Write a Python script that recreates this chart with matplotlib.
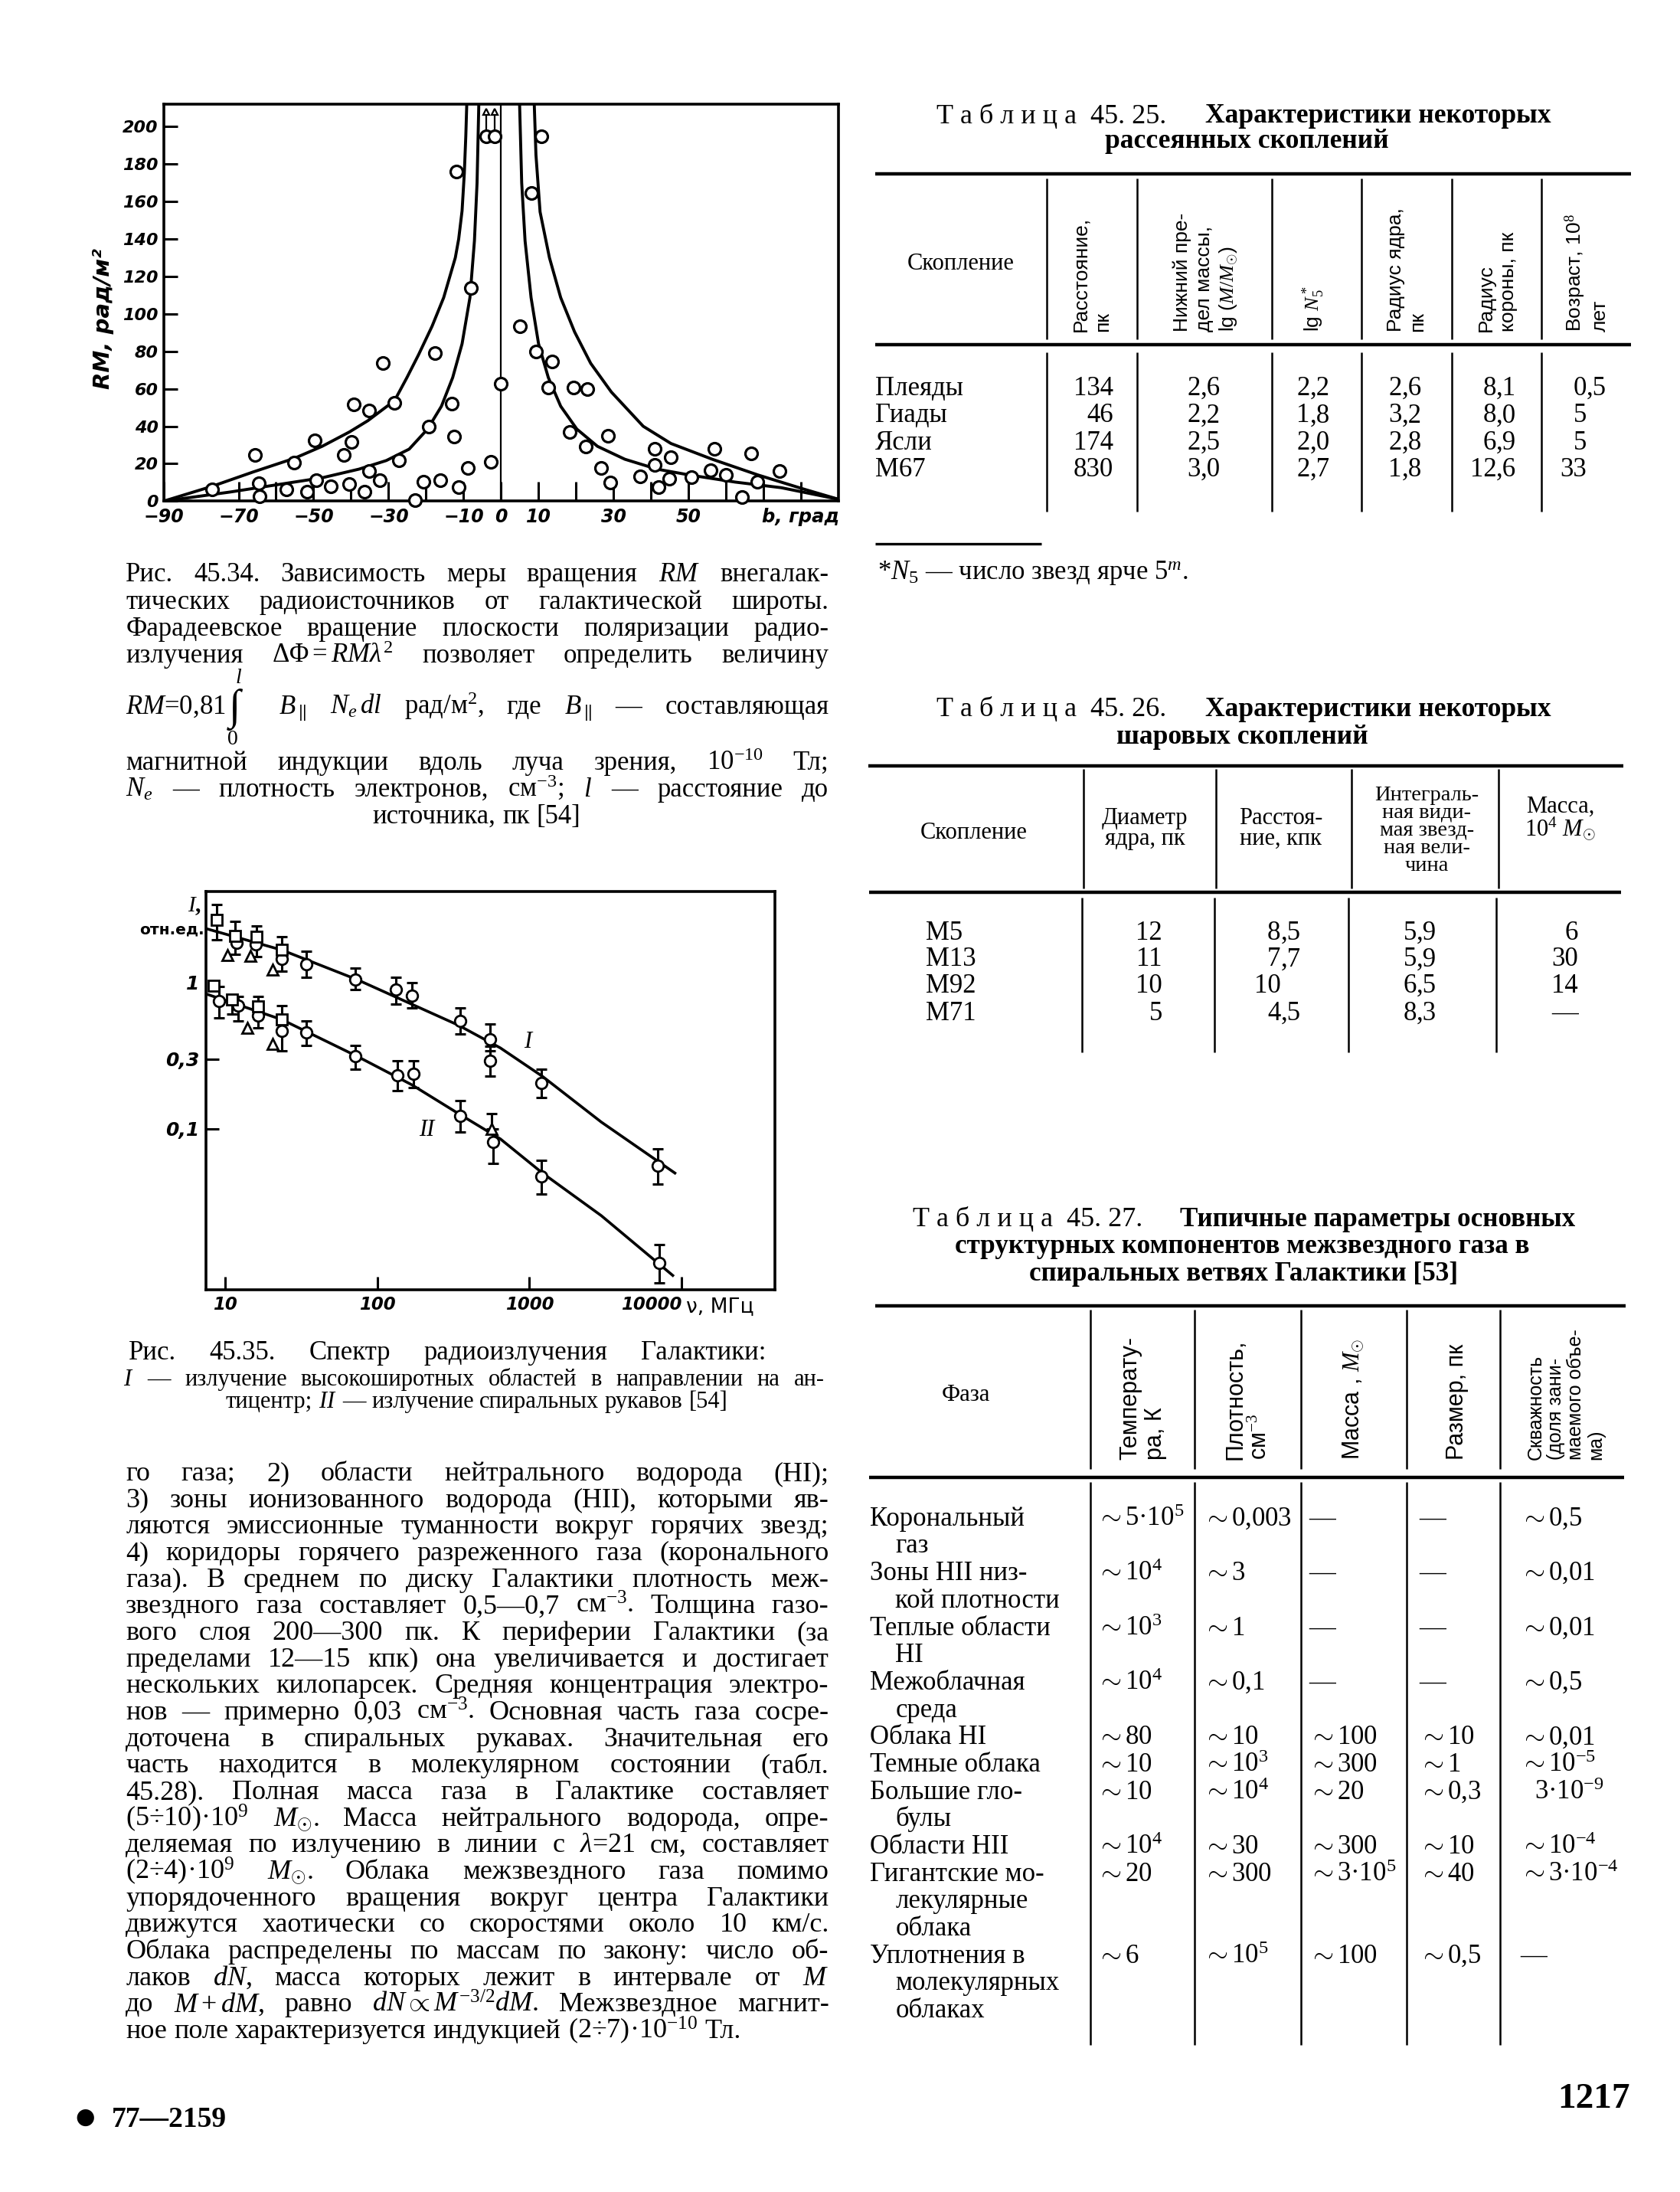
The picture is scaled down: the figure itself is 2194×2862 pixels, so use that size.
import numpy as np
import matplotlib
matplotlib.use("Agg")
import matplotlib.pyplot as plt
from matplotlib.lines import Line2D
from matplotlib.ticker import NullLocator

plt.rcParams['mathtext.fontset'] = 'custom'
plt.rcParams['mathtext.rm'] = 'Liberation Serif'
plt.rcParams['mathtext.it'] = 'Liberation Serif:italic'
plt.rcParams['mathtext.bf'] = 'Liberation Serif:bold'
plt.rcParams['font.family'] = ['Liberation Serif', 'DejaVu Serif']

# ===================== DATA =====================
# Fig. 45.34: rotation measure RM vs galactic latitude b
rm_b = [-77.1, -64.6, -64.3, -65.7, -57.3, -55.3, -51.7, -49.2, -49.6, -45.5, -42.0, -40.6,
        -39.8, -39.2, -36.4, -35.1, -35.1, -32.4, -31.5, -28.4, -27.3, -22.9, -20.6, -19.3,
        -17.7, -16.3, -13.1, -12.6, -11.9, -11.4, -8.8, -8.0, -4.0, -1.8, -2.7, 0.0,
        5.1, 9.3, 10.8, 8.0, 13.7, 12.6, 18.4, 19.3, 22.6, 23.0, 26.7, 28.5, 29.1, 37.1,
        41.0, 41.0, 42.0, 44.9, 45.3, 50.8, 55.9, 56.9, 60.0, 64.3, 66.7, 68.3, 74.3]
rm_val = [6.4, 9.5, 2.6, 24.7, 6.1, 20.5, 4.9, 11.0, 32.4, 7.9, 24.7, 9.2,
          31.6, 51.5, 4.9, 16.3, 48.4, 11.0, 73.6, 52.5, 21.7, 0.6, 10.2, 40.0,
          78.9, 11.0, 52.2, 34.7, 175.9, 7.6, 17.9, 114.0, 195.0, 195.0, 20.9, 62.9,
          93.4, 79.7, 195.0, 164.4, 74.4, 60.6, 37.0, 60.6, 29.3, 59.8, 17.9, 35.1, 9.8, 13.3,
          27.8, 19.4, 7.6, 12.1, 23.5, 12.8, 16.6, 27.8, 14.0, 2.3, 25.5, 10.2, 16.3]
offscale_b = [-4.0, -1.8]          # sources beyond the top of the scale
offscale_rm = [208.0, 208.0]

upper_left_b = [-90, -77.1, -66.1, -55.1, -47.7, -40.4, -35.5, -28.4, -25.1, -22.0, -18.4,
                -15.3, -12.2, -11.3, -10.4, -9.8, -9.4, -9.1]
upper_left_rm = [0, 7.9, 15.6, 22.9, 29.3, 37.0, 43.0, 53.7, 66.0, 78.2, 93.4,
                 108.7, 130.0, 140.0, 155.0, 175.0, 195.0, 215.0]
lower_left_b = [-90, -72.2, -60.0, -47.7, -37.9, -30.6, -24.5, -19.6, -15.9, -12.9, -10.4,
                -8.3, -7.1, -6.4, -5.9]
lower_left_rm = [0, 4.9, 8.7, 12.5, 17.1, 21.7, 27.8, 38.5, 50.7, 66.0, 84.0,
                 108.7, 139.0, 170.0, 215.0]
upper_right_b = [8.8, 9.3, 10.4, 12.9, 15.9, 19.6, 23.9, 29.4, 37.9, 45.3, 56.3, 68.5, 80.8, 90]
upper_right_rm = [215, 185, 154.5, 130, 108.7, 90.4, 73.6, 58.3, 40.0, 30.8, 22.4, 14.0, 6.4, 1.0]
lower_right_b = [4.9, 5.5, 6.4, 8.0, 10.0, 12.6, 15.9, 20.2, 25.7, 33.0, 41.6, 50.2, 62.4, 74.7, 90]
lower_right_rm = [215, 170, 139, 108.7, 84, 66, 50.7, 38.5, 29.3, 22.4, 17.1, 14.0, 10.2, 7.2, 1.0]

rm_xticks = [-90, -70, -60, -50, -40, -30, -20, -10, 0, 10, 20, 30, 40, 50, 60, 70, 80]
rm_xticklabels = ['\u221290', '\u221270', '', '\u221250', '', '\u221230', '', '\u221210', '0',
                  '10', '', '30', '', '50', '', '', '']
rm_yticks = [0, 20, 40, 60, 80, 100, 120, 140, 160, 180, 200]

# Fig. 45.35: radio spectrum of the Galaxy
lineI_nu = [7.5, 23.6, 74.1, 341, 644, 1218, 2966, 9036]
lineI_I = [2.34, 1.67, 1.045, 0.511, 0.357, 0.228, 0.111, 0.0497]
lineII_nu = [7.5, 23.6, 74.1, 169, 341, 644, 1218, 2966, 8750]
lineII_I = [0.836, 0.558, 0.312, 0.1995, 0.127, 0.0851, 0.0497, 0.0254, 0.0099]

spec_nu = [8.81, 11.6, 11.9, 16.1, 15.9, 23.6, 23.6, 34.1, 71.8, 133, 169, 352, 550, 550, 1202, 7000,
           10.3, 14.7, 20.5,
           8.4, 9.1, 11.1, 12.2, 16.4, 16.4, 23.6, 23.6, 34.1, 71.8, 136, 172, 352, 567, 575, 1202, 7140,
           14.0, 20.5]
spec_I = [2.68, 2.09, 1.87, 2.05, 1.83, 1.67, 1.46, 1.34, 1.046, 0.894, 0.818, 0.546, 0.408, 0.292, 0.206, 0.0556,
          1.55, 1.53, 1.22,
          0.95, 0.748, 0.764, 0.699, 0.684, 0.597, 0.558, 0.467, 0.457, 0.312, 0.233, 0.238, 0.122, 0.0995, 0.0814, 0.0471, 0.0121,
          0.489, 0.382]
spec_lo = [1.96, 1.56, 1.87, 1.50, 1.83, 1.20, 1.46, 1.09, 0.894, 0.715, 0.668, 0.447, 0.341, 0.228, 0.163, 0.0416,
           1.55, 1.53, 1.22,
           0.95, 0.571, 0.611, 0.546, 0.489, 0.597, 0.341, 0.467, 0.373, 0.255, 0.182, 0.191, 0.0952, 0.0995, 0.058, 0.0356, 0.00886,
           0.489, 0.382]
spec_hi = [3.43, 2.62, 1.87, 2.45, 1.83, 2.05, 1.46, 1.64, 1.25, 1.09, 1.0, 0.668, 0.522, 0.365, 0.255, 0.0728,
           1.55, 1.53, 1.22,
           0.95, 0.935, 0.818, 0.80, 0.80, 0.597, 0.699, 0.467, 0.546, 0.373, 0.292, 0.292, 0.156, 0.127, 0.0995, 0.0608, 0.0162,
           0.489, 0.382]
spec_mk = ['s', 's', 'o', 's', 'o', 's', 'o', 'o', 'o', 'o', 'o', 'o', 'o', 'o', 'o', 'o',
           '^', '^', '^',
           's', 'o', 's', 'o', 's', 'o', 's', 'o', 'o', 'o', 'o', 'o', 'o', '^', 'o', 'o', 'o',
           '^', '^']
spec_xticks = [10, 100, 1000, 10000]
spec_xticklabels = ['10', '100', '1000', '10000']
spec_yticks = [0.1, 0.3, 1]
spec_yticklabels = ['0,1', '0,3', '1']

# Table 45.25
t25_clusters = ['Плеяды', 'Гиады', 'Ясли', 'M67']
t25_dist = ['134', '46', '174', '830']
t25_mass = ['2,6', '2,2', '2,5', '3,0']
t25_lgN = ['2,2', '1,8', '2,0', '2,7']
t25_rcore = ['2,6', '3,2', '2,8', '1,8']
t25_rcorona = ['8,1', '8,0', '6,9', '12,6']
t25_age = ['0,5', '5', '5', '33']
t25_heads = ['Расстояние,\nпк', 'Нижний пре-\nдел массы,\nlg ($M/M_{\\odot}$)', 'lg $N_5^*$',
             'Радиус ядра,\nпк', 'Радиус\nкороны, пк', 'Возраст, 10$^8$\nлет']

# Table 45.26
t26_clusters = ['M5', 'M13', 'M92', 'M71']
t26_core = ['12', '11', '10', '5']
t26_dist = ['8,5', '7,7', '10', '4,5']
t26_mag = ['5,9', '5,9', '6,5', '8,3']
t26_mass = ['6', '30', '14', '—']
t26_heads = ['Диаметр\nядра, пк', 'Расстоя-\nние, кпк',
             'Интеграль-\nная види-\nмая звезд-\nная вели-\nчина', 'Масса,\n10$^4$ $M_{\\odot}$']

# Table 45.27
t27_phase = [['Корональный', 'газ'], ['Зоны HII низ-', 'кой плотности'], ['Теплые области', 'HI'],
             ['Межоблачная', 'среда'], ['Облака HI'], ['Темные облака'], ['Большие гло-', 'булы'],
             ['Области HII'], ['Гигантские мо-', 'лекулярные', 'облака'],
             ['Уплотнения в', 'молекулярных', 'облаках']]
t27_temp = ['$\\sim$5·10$^5$', '$\\sim$10$^4$', '$\\sim$10$^3$', '$\\sim$10$^4$', '$\\sim$80',
            '$\\sim$10', '$\\sim$10', '$\\sim$10$^4$', '$\\sim$20', '$\\sim$6']
t27_dens = ['$\\sim$0,003', '$\\sim$3', '$\\sim$1', '$\\sim$0,1', '$\\sim$10', '$\\sim$10$^3$',
            '$\\sim$10$^4$', '$\\sim$30', '$\\sim$300', '$\\sim$10$^5$']
t27_mass = ['—', '—', '—', '—', '$\\sim$100', '$\\sim$300', '$\\sim$20', '$\\sim$300',
            '$\\sim$3·10$^5$', '$\\sim$100']
t27_size = ['—', '—', '—', '—', '$\\sim$10', '$\\sim$1', '$\\sim$0,3', '$\\sim$10', '$\\sim$40', '$\\sim$0,5']
t27_fill = ['$\\sim$0,5', '$\\sim$0,01', '$\\sim$0,01', '$\\sim$0,5', '$\\sim$0,01', '$\\sim$10$^{-5}$',
            '3·10$^{-9}$', '$\\sim$10$^{-4}$', '$\\sim$3·10$^{-4}$', '—']
t27_heads = ['Температу-\nра, К', 'Плотность,\nсм$^{-3}$', 'Масса , $M_{\\odot}$', 'Размер, пк',
             'Скважность\n(доля зани-\nмаемого объе-\nма)']

# Texts
cap34 = ["Рис. 45.34. Зависимость меры вращения $RM$ внегалак-",
         "тических радиоисточников от галактической широты.",
         "Фарадеевское вращение плоскости поляризации радио-",
         "излучения $\\Delta\\Phi = RM\\lambda^2$ позволяет определить величину",
         "$RM$=0,81 ∫ $B_{\\parallel}$ $N_e\\,dl$ рад/м$^2$, где $B_{\\parallel}$ — составляющая",
         "магнитной индукции вдоль луча зрения, 10$^{-10}$ Тл;",
         "$N_e$ — плотность электронов, см$^{-3}$; $l$ — расстояние до",
         "источника, пк [54]"]
cap35a = ["Рис. 45.35. Спектр радиоизлучения Галактики:"]
cap35b = ["$I$ — излучение высокоширотных областей в направлении на ан-",
          "тицентр; $II$ — излучение спиральных рукавов [54]"]
body = ["го газа; 2) области нейтрального водорода (HI);",
        "3) зоны ионизованного водорода (HII), которыми яв-",
        "ляются эмиссионные туманности вокруг горячих звезд;",
        "4) коридоры горячего разреженного газа (коронального",
        "газа). В среднем по диску Галактики плотность меж-",
        "звездного газа составляет 0,5—0,7 см$^{-3}$. Толщина газо-",
        "вого слоя 200—300 пк. К периферии Галактики (за",
        "пределами 12—15 кпк) она увеличивается и достигает",
        "нескольких килопарсек. Средняя концентрация электро-",
        "нов — примерно 0,03 см$^{-3}$. Основная часть газа сосре-",
        "доточена в спиральных рукавах. Значительная его",
        "часть находится в молекулярном состоянии (табл.",
        "45.28). Полная масса газа в Галактике составляет",
        "(5÷10)·10$^9$ $M_{\\odot}$. Масса нейтрального водорода, опре-",
        "деляемая по излучению в линии с $\\lambda$=21 см, составляет",
        "(2÷4)·10$^9$ $M_{\\odot}$. Облака межзвездного газа помимо",
        "упорядоченного вращения вокруг центра Галактики",
        "движутся хаотически со скоростями около 10 км/с.",
        "Облака распределены по массам по закону: число об-",
        "лаков $dN$, масса которых лежит в интервале от $M$",
        "до $M+dM$, равно $dN \\propto M^{-3/2}dM$. Межзвездное магнит-",
        "ное поле характеризуется индукцией (2÷7)·10$^{-10}$ Тл."]

# ===================== LAYOUT HELPERS =====================
W, H = 2194, 2862
K = W / 1202.0
SERIF = ['Liberation Serif', 'DejaVu Serif']
SANS = ['DejaVu Sans']
HSANS = ['Liberation Sans', 'DejaVu Sans']

fig = plt.figure(figsize=(W / 100, H / 100), dpi=100)
fig.patch.set_facecolor('white')
R = fig.canvas.get_renderer()


def fx(x):
    return x * K / W


def fy(y):
    return 1 - y * K / H


def em(size):
    return size * 100 / 72 / K


def bl(yc, size):
    return yc + 0.3 * em(size)


def T(x, y, s, size, **kw):
    kw.setdefault('family', SERIF)
    kw.setdefault('ha', 'left')
    kw.setdefault('va', 'baseline')
    return fig.text(fx(x), fy(y), s, fontsize=size, color='black', **kw)


def wid(t):
    return t.get_window_extent(renderer=R).width / K


def tokens(line):
    out, cur, inm = [], '', False
    for ch in line:
        if ch == '$':
            inm = not inm
        if ch == ' ' and not inm:
            if cur:
                out.append(cur)
            cur = ''
        else:
            cur += ch
    if cur:
        out.append(cur)
    return out


def block(lines, modes, x0, x1, ycs, size, maxsize=None, xc=None, **kw):
    rows = [[T(0, 0, w, size, **kw) for w in tokens(ln)] for ln in lines]
    avail = x1 - x0
    worst = 0.0
    for r, m in zip(rows, modes):
        if m == 'j':
            worst = max(worst, (sum(wid(t) for t in r) + 0.25 * em(size) * (len(r) - 1)) / avail)
    s = size / worst if worst > 0 else size
    if maxsize:
        s = min(s, maxsize)
    for r in rows:
        for t in r:
            t.set_fontsize(s)
    sp = 0.25 * em(s)
    for r, m, yc in zip(rows, modes, ycs):
        ws = [wid(t) for t in r]
        y = bl(yc, s)
        if m == 'j' and len(r) > 1:
            gap = (avail - sum(ws)) / (len(r) - 1)
            x = x0
        elif m == 'c':
            gap = sp
            x = xc - (sum(ws) + sp * (len(r) - 1)) / 2
        else:
            gap = sp
            x = x0
        for t, w in zip(r, ws):
            t.set_position((fx(x), fy(y)))
            x += w + gap
    return rows, s


def fit(t, target, maxsize=None):
    s = t.get_fontsize() * target / wid(t)
    if maxsize:
        s = min(s, maxsize)
    t.set_fontsize(s)
    return s


def hline(x0, x1, y, lw=2.8):
    fig.add_artist(Line2D([fx(x0), fx(x1)], [fy(y), fy(y)], transform=fig.transFigure,
                          color='k', lw=lw, solid_capstyle='butt'))


def vline(x, y0, y1, lw=1.8):
    fig.add_artist(Line2D([fx(x), fx(x)], [fy(y0), fy(y1)], transform=fig.transFigure,
                          color='k', lw=lw, solid_capstyle='butt'))


def D(xa, y, s, size):
    if ',' in s:
        i, f = s.split(',', 1)
        T(xa, y, i, size, ha='right')
        T(xa, y, ',' + f, size, ha='left')
    else:
        T(xa, y, s, size, ha='right')


def style_ticks(labels, size):
    for lab in labels:
        lab.set_fontfamily(SANS)
        lab.set_fontweight('bold')
        lab.set_fontstyle('italic')
        lab.set_fontsize(size)


# ===================== FIG 45.34 =====================
ax1 = fig.add_axes([fx(117), fy(358.5), fx(600) - fx(117), fy(74.5) - fy(358.5)])
ax1.set_xlim(-90, 90)
ax1.set_ylim(0, 212)
for xs, ys in [(upper_left_b, upper_left_rm), (lower_left_b, lower_left_rm),
               (upper_right_b, upper_right_rm), (lower_right_b, lower_right_rm)]:
    ax1.plot(xs, ys, color='k', lw=2.8, solid_joinstyle='round')
ax1.axvline(0, color='k', lw=1.6)
for b, v in zip(offscale_b, offscale_rm):
    ax1.plot([b, b], [199, v], color='k', lw=1.6)
ax1.plot(offscale_b, offscale_rm, ls='none', marker='^', ms=6, mfc='white', mec='k', mew=1.6)
ax1.plot(rm_b, rm_val, ls='none', marker='o', ms=11.5, mfc='white', mec='k', mew=2.3, zorder=5,
         clip_on=False)
ax1.set_xticks(rm_xticks)
ax1.set_xticklabels(rm_xticklabels)
ax1.set_yticks(rm_yticks)
ax1.set_yticklabels([str(v) for v in rm_yticks])
ax1.tick_params(axis='x', direction='in', length=18, width=2.2, pad=6)
ax1.tick_params(axis='y', direction='in', length=13, width=2.2, pad=5)
style_ticks(ax1.get_xticklabels(), 17)
style_ticks(ax1.get_yticklabels(), 16)
for sp in ax1.spines.values():
    sp.set_linewidth(2.6)
T(74, 228, 'RM, рад/м²', 21, family=SANS, weight='bold', style='italic', rotation=90,
  ha='center', va='center')
T(545, 370, 'b, град', 17.5, family=SANS, weight='bold', style='italic', va='center')

# ===================== FIG 45.35 =====================
ax2 = fig.add_axes([fx(147.4), fy(922.6), fx(554.4) - fx(147.4), fy(637.7) - fy(922.6)])
ax2.set_xscale('log')
ax2.set_yscale('log')
ax2.set_xlim(7.49, 41000)
ax2.set_ylim(0.0079, 4.2)
ax2.plot(lineI_nu, lineI_I, color='k', lw=2.6)
ax2.plot(lineII_nu, lineII_I, color='k', lw=2.6)
for nu, I, lo, hi in zip(spec_nu, spec_I, spec_lo, spec_hi):
    if hi > lo:
        ax2.errorbar([nu], [I], yerr=[[I - lo], [hi - I]], fmt='none', ecolor='k',
                     elinewidth=2.2, capsize=5, capthick=2.2)
for mk in ['o', 's', '^']:
    sel = [i for i, m in enumerate(spec_mk) if m == mk]
    ax2.plot([spec_nu[i] for i in sel], [spec_I[i] for i in sel], ls='none', marker=mk,
             ms=10.5, mfc='white', mec='k', mew=2.0, zorder=5)
ax2.set_xticks(spec_xticks)
ax2.set_xticklabels(spec_xticklabels)
ax2.set_yticks(spec_yticks)
ax2.set_yticklabels(spec_yticklabels)
ax2.xaxis.set_minor_locator(NullLocator())
ax2.yaxis.set_minor_locator(NullLocator())
ax2.tick_params(axis='both', direction='in', length=12, width=2.2, pad=6)
ax2.yaxis.get_major_ticks()[2].tick1line.set_visible(False)
style_ticks(ax2.get_xticklabels(), 16.5)
style_ticks(ax2.get_yticklabels(), 18)
ax2.get_xticklabels()[-1].set_horizontalalignment('right')
for sp in ax2.spines.values():
    sp.set_linewidth(2.6)
ax2.text(975, 0.39, 'I', fontsize=22, family=SERIF, style='italic', ha='center', va='center')
ax2.text(212, 0.0973, 'II', fontsize=22, family=SERIF, style='italic', ha='center', va='center')
T(139, 648, '$I$,', 21, ha='center', va='center', weight='bold')
T(146, 665, 'отн.ед.', 14.5, family=SANS, weight='bold', ha='right', va='center')
T(491, 935, 'ν, МГц', 19, family=SANS, va='center')

# ===================== CAPTIONS & BODY =====================
rows34, s34 = block(cap34, ['j', 'j', 'j', 'j', 'j', 'j', 'j', 'c'], 90, 593,
                    [410, 430, 449, 468, 505, 545, 564, 583], 20, maxsize=25, xc=341)
# integral sign with limits
ri = rows34[4]
x_after = (ri[0].get_window_extent(renderer=R).x1) / K
ri[1].set_fontsize(s34 * 1.6)
ri[1].set_position((fx(x_after + 2), fy(bl(505, s34) + 0.2 * em(s34))))
xi = x_after + 2 + wid(ri[1]) / 2
T(xi + 3, bl(484, s34 * 0.8), '$l$', s34 * 0.8, ha='center')
T(xi - 1, bl(528, s34 * 0.8), '0', s34 * 0.8, ha='center')

block(cap35a, ['j'], 92, 548, [967], 20, maxsize=25)
block(cap35b, ['j', 'c'], 88, 590, [986, 1002], 14, maxsize=22, xc=341)
block(body, ['j'] * 21 + ['l'], 90, 593, [1053 + 19 * i for i in range(22)], 20, maxsize=26)

# ===================== TABLE TITLES =====================
def title_line1(xl, xr, yc, reg, bold, wreg, wbold):
    t1 = T(xl, 0, reg, 20)
    s1 = fit(t1, wreg, 26)
    t2 = T(xr, 0, bold, 20, ha='right', weight='bold')
    s2 = fit(t2, wbold, 26)
    t1.set_y(fy(bl(yc, s1)))
    t2.set_y(fy(bl(yc, s2)))
    return s2


s = title_line1(670, 1110, 82, 'Т а б л и ц а  45. 25.', 'Характеристики некоторых', 172, 248)
T(892, bl(100, s), 'рассеянных скоплений', s, ha='center', weight='bold')
s = title_line1(670, 1110, 506.5, 'Т а б л и ц а  45. 26.', 'Характеристики некоторых', 170, 248)
T(889, bl(526, s), 'шаровых скоплений', s, ha='center', weight='bold')
s = title_line1(653, 1127, 871.3, 'Т а б л и ц а  45. 27.', 'Типичные параметры основных', 173, 283)
T(889, bl(890.5, s), 'структурных компонентов межзвездного газа в', s, ha='center', weight='bold')
T(890, bl(910, s), 'спиральных ветвях Галактики [53]', s, ha='center', weight='bold')

# ===================== TABLE 45.25 =====================
hline(626, 1167, 124.6, 3.2)
hline(626, 1167, 246.8, 3.2)
for x in [748.8, 813.6, 909.9, 974.0, 1038.9, 1103.0]:
    vline(x, 127.4, 242.7)
    vline(x, 251.8, 366.0)
T(687.5, 189, 'Скопление', 22, ha='center', va='center')
for xc, hd in zip([781.2, 863.0, 939.8, 1006.5, 1071.3, 1135.1], t25_heads):
    T(xc, 237, hd, 19, family=HSANS, rotation=90, ha='center', va='bottom',
      multialignment='left', linespacing=1.25)
t25_cols = [t25_dist, t25_mass, t25_lgN, t25_rcore, t25_rcorona, t25_age]
for i, name in enumerate(t25_clusters):
    yb = bl([276.9, 296.3, 315.7, 335.1][i], 25)
    T(626.2, yb, name, 25)
    for col, xa in zip(t25_cols, [796.7, 858.7, 937.3, 1002.8, 1070.6, 1135.0]):
        D(xa, yb, col[i], 25)
hline(626, 745, 388.8, 2.4)
tf = T(628, 0, '*$N_5$ — число звезд ярче 5$^m$.', 18)
sf = fit(tf, 262, 25)
tf.set_y(fy(bl(408.2, sf)))

# ===================== TABLE 45.26 =====================
hline(621, 1161.4, 547.6, 3.2)
hline(622, 1160, 638.5, 3.2)
for xh, xd in zip([775.0, 870.2, 966.8, 1072.0], [774.0, 868.8, 965.0, 1070.6]):
    vline(xh, 550.3, 635.5)
    vline(xd, 642.0, 752.5)
T(696.5, 596, 'Скопление', 22, ha='center', va='center')
for (xc, yc), hd, hs in zip([(819, 593), (916.3, 592.5), (1020.9, 594), (1116.4, 586)], t26_heads,
                            [22, 22, 20.5, 22]):
    T(xc, yc, hd, hs, ha='center', va='center', multialignment='center', linespacing=0.9)
t26_cols = [t26_core, t26_dist, t26_mag, t26_mass]
for i, name in enumerate(t26_clusters):
    yb = bl([666.6, 685.4, 704.2, 723.9][i], 25)
    T(662.3, yb, name, 25)
    for col, xa in zip(t26_cols, [831.6, 916.3, 1013.6, 1129.0]):
        D(xa, yb, col[i], 25)

# ===================== TABLE 45.27 =====================
hline(626, 1163, 934.1, 3.2)
hline(622, 1162, 1056.9, 3.2)
for x in [780.1, 854.4, 930.8, 1006.4, 1073.1]:
    vline(x, 937.0, 1051.0)
    vline(x, 1060.0, 1463.0)
T(691, 998, 'Фаза', 22, ha='center', va='center')
for xc, hd, hs in zip([818.0, 892.9, 968.6, 1042.5, 1120.5], t27_heads, [22, 22, 22, 22, 18]):
    T(xc, 1044, hd, hs, family=HSANS, rotation=90, ha='center', va='bottom',
      multialignment='left', linespacing=1.12)
line_idx = 0
for i, ph in enumerate(t27_phase):
    y0 = 1085.5 + 19.55 * line_idx
    for k, part in enumerate(ph):
        T(622.6 if k == 0 else 640.6, bl(y0 + 19.55 * k, 25), part, 25)
    yb = bl(y0, 25)
    T(784.8, yb, t27_temp[i], 25)
    T(860.5, yb, t27_dens[i], 25)
    T(936.2, yb, t27_mass[i], 25)
    T(1015.4, yb, t27_size[i], 25)
    T(1098.0 if t27_fill[i].startswith('3') else 1087.5, yb, t27_fill[i], 25)
    line_idx += len(ph)

# ===================== FOOTER =====================
T(54, bl(1514, 22), '●', 21, family=['DejaVu Sans'])
T(80, bl(1515, 27), '77—2159', 27, weight='bold')
T(1166, bl(1500, 34), '1217', 34, weight='bold', ha='right')

fig.savefig('out.png', dpi=100, facecolor='white')
